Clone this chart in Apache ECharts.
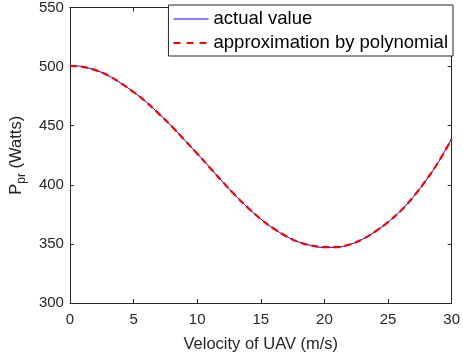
<!DOCTYPE html>
<html>
<head>
<meta charset="utf-8">
<script src="https://cdn.jsdelivr.net/npm/echarts@6/dist/echarts.min.js"></script>
<style>
  html, body { margin: 0; padding: 0; background: #fff; }
  #chart { width: 463px; height: 360px; }
</style>
</head>
<body>
<div id="chart"></div>
<script>
// Flight speed samples (m/s)
const velocity = [0, 1, 2, 3, 4, 5, 6, 7, 8, 9, 10, 11, 12, 13, 14, 15,
                  16, 17, 18, 19, 20, 21, 22, 23, 24, 25, 26, 27, 28, 29, 30];
// Propulsion power, exact model (W)
const actualValue = [501, 500, 497, 492.5, 486, 478.5, 470, 460, 449.5, 438, 426.5,
                     414.5, 402.5, 391, 380.5, 371, 363, 356.5, 351.5, 348.6, 347,
                     347.2, 349.5, 354, 360.5, 368.5, 378, 390, 404, 420, 439];
// Propulsion power, polynomial fit (W)
const polyValue = [500.5, 499.8, 497, 492.5, 486, 478.5, 470, 460, 449.5, 438, 426.5,
                   414.5, 402.5, 391, 380.5, 371, 363, 356.5, 351.5, 348.6, 347.2,
                   347.3, 349.5, 354, 360.5, 368.5, 378, 390, 404, 420, 438.8];

const xTicks = { min: 0, max: 30, interval: 5 };
const yTicks = { min: 300, max: 550, interval: 50 };

const ink = '#262626';
const font = 'Liberation Sans, Arial, Helvetica, sans-serif';

const pairs = (xs, ys) => xs.map((x, i) => [x, ys[i]]);

const frameAxis = (pos, ticks, showLabels, extra) => Object.assign({
  type: 'value',
  position: pos,
  min: ticks.min, max: ticks.max, interval: ticks.interval,
  axisLine: { show: true, onZero: false, lineStyle: { color: ink, width: 1 } },
  axisTick: { show: true, inside: true, length: 4, lineStyle: { color: ink } },
  axisLabel: { show: showLabels, color: ink, fontFamily: font, fontSize: 15 },
  splitLine: { show: false }
}, extra || {});

const chart = echarts.init(document.getElementById('chart'), null, { renderer: 'canvas' });

chart.setOption({
  animation: false,
  backgroundColor: '#fff',
  grid: { left: 67, right: 8, top: 5, bottom: 57, containLabel: false },
  xAxis: [
    frameAxis('bottom', xTicks, true, {
      name: 'Velocity of UAV (m/s)',
      nameLocation: 'middle',
      nameGap: 33,
      nameTextStyle: { color: ink, fontFamily: font, fontSize: 16.5 },
      axisLabel: { show: true, color: ink, fontFamily: font, fontSize: 15, margin: 9 }
    }),
    frameAxis('top', xTicks, false)
  ],
  yAxis: [
    frameAxis('left', yTicks, true, {
      name: '{main|P}{sub|pr}{main| (Watts)}',
      nameLocation: 'middle',
      nameGap: 36,
      nameRotate: 90,
      nameTextStyle: {
        color: ink, fontFamily: font,
        rich: {
          main: { fontSize: 16.5, color: ink, fontFamily: font, lineHeight: 20, verticalAlign: 'top' },
          sub: { fontSize: 12, color: ink, fontFamily: font, lineHeight: 20, verticalAlign: 'bottom', padding: [8, 0, 0, 0] }
        }
      },
      axisLabel: { show: true, color: ink, fontFamily: font, fontSize: 15, margin: 6 }
    }),
    frameAxis('right', yTicks, false)
  ],
  legend: {
    orient: 'vertical',
    right: 10,
    top: 5,
    padding: [3, 5, 2, 4],
    itemWidth: 35,
    itemHeight: 15,
    itemGap: 2,
    backgroundColor: '#fff',
    borderColor: ink,
    borderWidth: 1,
    borderRadius: 0,
    itemStyle: { opacity: 0 },
    textStyle: { color: '#000', fontFamily: font, fontSize: 18.5, lineHeight: 22 },
    data: [
      { name: 'actual value', lineStyle: { color: '#0000ff', width: 1, type: 'solid' } },
      { name: 'approximation by polynomial', lineStyle: { color: '#ff0000', width: 2.2, type: [7, 6] } }
    ]
  },
  series: [
    {
      name: 'actual value',
      type: 'line',
      xAxisIndex: 0, yAxisIndex: 0,
      data: pairs(velocity, actualValue),
      smooth: 0.4,
      symbol: 'none',
      lineStyle: { color: '#0000ff', width: 1 },
      itemStyle: { color: '#0000ff' },
      z: 2
    },
    {
      name: 'approximation by polynomial',
      type: 'line',
      xAxisIndex: 0, yAxisIndex: 0,
      data: pairs(velocity, polyValue),
      smooth: 0.4,
      symbol: 'none',
      lineStyle: { color: '#ff0000', width: 2.2, type: [7, 4] },
      itemStyle: { color: '#ff0000' },
      z: 3
    }
  ]
});
</script>
</body>
</html>
